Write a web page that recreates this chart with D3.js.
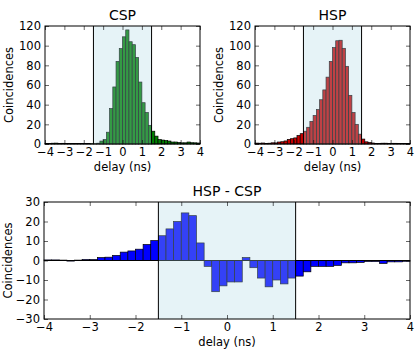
<!DOCTYPE html>
<meta charset="utf-8">
<html>
<head>
<title>CSP / HSP coincidences</title>
<script src="https://cdn.jsdelivr.net/npm/d3@7"></script>
<style>
  body { margin: 0; background: #fff; }
  text { font-family: "DejaVu Sans", sans-serif; }
</style>
</head>
<body>
<script>
// histogram bins: 48 bins of 1/6 ns starting at -4 ns
var binStart = -4, binWidth = 1 / 6
var window_ns = [-1.5, 1.5]

var csp = [0.6, 0.5, 0.8, 0.9, 0.6, 0.7, 0.6, 0.5, 0.6, 0.5, 0.4, 0.5, 0.4, 0.4, 0.3, 0.3,
           0.8, 3, 4.6, 12, 36, 58, 84, 97, 109, 116, 104, 101, 88, 63, 42, 32,
           19, 13, 8, 4.5, 4, 3.5, 3, 2, 2, 1.5, 1.2, 1.2, 2, 1.3, 1.2, 1]
var hsp = [0.9, 0.8, 1.0, 0.6, 0.8, 1.2, 1.1, 2.0, 2.3, 3.1, 4.7, 5.4, 6.2, 8.6, 10.5, 13,
           17, 23, 29, 35, 45, 55, 68, 84, 98, 105, 105.5, 97.3, 79, 49.5, 32, 20,
           10, 5, 2.2, 1.5, 1.0, 0.5, 0.5, 0.8, 0.8, 0.5, 0.7, 0.7, 0.5, 0.6, 0.5, 0.6]
var diff = [0.3, 0.3, 0.2, -0.3, 0.2, 0.5, 0.5, 1.5, 1.7, 2.6, 4.3, 4.9, 5.8, 8.2, 10.2, 12.7,
            16.2, 20, 24.4, 23, 9, -3, -16, -13, -11, -11, 1.5, -3.7, -9, -13.5, -10, -12,
            -9, -8, -5.8, -3, -3, -3, -2.5, -1.2, -1.2, -1, -0.5, -0.5, -1.5, -0.7, -0.7, -0.4]

var xTicks = [-4, -3, -2, -1, 0, 1, 2, 3, 4]
var yTicksTop = [0, 20, 40, 60, 80, 100, 120]
var yTicksBottom = [-30, -20, -10, 0, 10, 20, 30]

var svg = d3.select("body").append("svg")
    .attr("width", 415)
    .attr("height", 350)

function panel(opt){
    var g = svg.append("g")
    var x = d3.scaleLinear().domain([-4, 4]).range([opt.x0, opt.x1])
    var y = d3.scaleLinear().domain(opt.ydom).range([opt.y1, opt.y0])

    // bars
    g.selectAll("rect.bar")
        .data(opt.values)
        .enter()
        .append("rect")
        .attr("class", "bar")
        .attr("x", (d,i) => x(binStart + i*binWidth))
        .attr("width", (d,i) => x(binStart + (i+1)*binWidth) - x(binStart + i*binWidth))
        .attr("y", d => y(Math.max(d, 0)))
        .attr("height", d => Math.abs(y(d) - y(0)))
        .attr("fill", opt.color)
        .attr("stroke", "#000")
        .attr("stroke-width", 0.7)

    if (opt.zeroLine){
        g.append("line")
            .attr("x1", opt.x0).attr("x2", opt.x1)
            .attr("y1", y(0)).attr("y2", y(0))
            .attr("stroke", "#000").attr("stroke-width", 1)
    }

    // coincidence window, drawn over the bars
    g.append("rect")
        .attr("x", x(window_ns[0]))
        .attr("width", x(window_ns[1]) - x(window_ns[0]))
        .attr("y", opt.y0)
        .attr("height", opt.y1 - opt.y0)
        .attr("fill", "#add8e6")
        .attr("fill-opacity", 0.3)
    window_ns.forEach(v => {
        g.append("line")
            .attr("x1", x(v)).attr("x2", x(v))
            .attr("y1", opt.y0).attr("y2", opt.y1)
            .attr("stroke", "#000").attr("stroke-width", 1)
    })

    // axes, ticks pointing inward on all four sides
    var ax = g.append("g").attr("transform", "translate(0," + opt.y1 + ")")
        .call(d3.axisBottom(x).tickValues(xTicks).tickSize(-4).tickSizeOuter(0).tickPadding(4))
    var ay = g.append("g").attr("transform", "translate(" + opt.x0 + ",0)")
        .call(d3.axisLeft(y).tickValues(opt.yticks).tickSize(-4).tickSizeOuter(0).tickPadding(4))
    g.append("g").attr("transform", "translate(0," + opt.y0 + ")")
        .call(d3.axisTop(x).tickValues(xTicks).tickSize(-4).tickSizeOuter(0).tickFormat(""))
    g.append("g").attr("transform", "translate(" + opt.x1 + ",0)")
        .call(d3.axisRight(y).tickValues(opt.yticks).tickSize(-4).tickSizeOuter(0).tickFormat(""))
    g.selectAll(".domain").remove()
    g.selectAll(".tick line").attr("stroke", "#000").attr("stroke-width", 0.6)
    g.selectAll(".tick text").attr("fill", "#000").style("font-size", "11.5px")
        .style("font-family", "DejaVu Sans, sans-serif")

    g.append("rect")
        .attr("x", opt.x0).attr("y", opt.y0)
        .attr("width", opt.x1 - opt.x0).attr("height", opt.y1 - opt.y0)
        .attr("fill", "none").attr("stroke", "#000").attr("stroke-width", 1)

    g.append("text")
        .attr("x", (opt.x0 + opt.x1)/2).attr("y", opt.y0 - 6)
        .attr("text-anchor", "middle")
        .style("font-size", "14px")
        .text(opt.title)
    g.append("text")
        .attr("x", (opt.x0 + opt.x1)/2).attr("y", opt.y1 + 27)
        .attr("text-anchor", "middle")
        .style("font-size", "11.5px")
        .text("delay (ns)")
    g.append("text")
        .attr("transform", "translate(" + opt.ylabX + "," + ((opt.y0 + opt.y1)/2) + ") rotate(-90)")
        .attr("text-anchor", "middle")
        .style("font-size", "11.5px")
        .text("Coincidences")
}

panel({x0: 45, x1: 200, y0: 26, y1: 144, ydom: [0, 120], yticks: yTicksTop,
       values: csp, color: "#008000", title: "CSP", ylabX: 13})
panel({x0: 255, x1: 410, y0: 26, y1: 144, ydom: [0, 120], yticks: yTicksTop,
       values: hsp, color: "#c80000", title: "HSP", ylabX: 223})
panel({x0: 44, x1: 410, y0: 202, y1: 319, ydom: [-30, 30], yticks: yTicksBottom,
       values: diff, color: "#0000ff", title: "HSP - CSP", ylabX: 12, zeroLine: true})
</script>
</body>
</html>
